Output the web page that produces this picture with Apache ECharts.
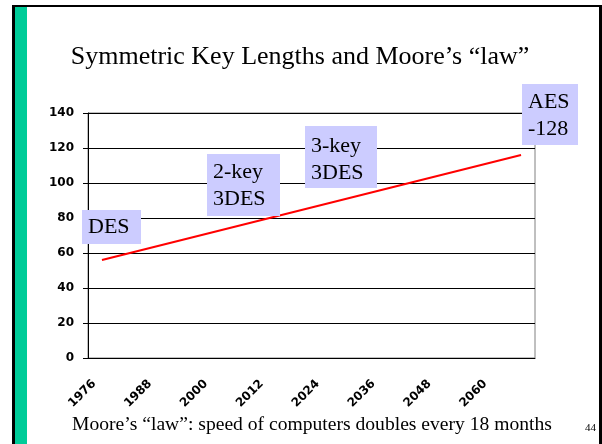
<!DOCTYPE html>
<html>
<head>
<meta charset="utf-8">
<script src="https://cdn.jsdelivr.net/npm/echarts@6/dist/echarts.min.js"></script>
<style>
  html, body { margin: 0; padding: 0; background: #fff; }
  #chart { width: 602px; height: 444px; }
</style>
</head>
<body>
<div id="chart"></div>
<script>
// years, one category per 6 years
var years = ['1976', '1982', '1988', '1994', '2000', '2006', '2012', '2018',
             '2024', '2030', '2036', '2042', '2048', '2054', '2060', '2066'];
// key length in bits (one extra bit every 18 months)
var keyBits = [56, 60, 64, 68, 72, 76, 80, 84, 88, 92, 96, 100, 104, 108, 112, 116];
var yTicks = [0, 20, 40, 60, 80, 100, 120, 140];
var titleText = 'Symmetric Key Lengths and Moore\u2019s \u201claw\u201d';
var footText = 'Moore\u2019s \u201claw\u201d: speed of computers doubles every 18 months';
var pageNo = '44';

var serif = '"Liberation Serif", "Times New Roman", serif';
var boxFill = '#ccccff';

function box(x, y, w, h, text, tx, ty) {
    return {
        type: 'group',
        z: 50,
        children: [
            { type: 'rect', z: 50, shape: { x: x, y: y, width: w, height: h }, style: { fill: boxFill } },
            { type: 'text', z: 51, x: tx, y: ty, style: {
                text: text, font: '22px ' + serif, fill: '#000',
                lineHeight: 27, textVerticalAlign: 'middle', verticalAlign: 'middle'
            } }
        ]
    };
}

var chart = echarts.init(document.getElementById('chart'));

var option = {
    backgroundColor: '#fff',
    animation: false,
    grid: {
        left: 88, right: 67, top: 113, bottom: 86,
        show: true, borderColor: '#808080', borderWidth: 1
    },
    xAxis: {
        type: 'category',
        data: years,
        boundaryGap: true,
        axisLine: { lineStyle: { color: '#000', width: 1 } },
        axisTick: { interval: 0, length: 5, lineStyle: { color: '#000' } },
        axisLabel: {
            interval: 1, rotate: 45, margin: 16, padding: [0, 11, 0, 0],
            color: '#000', fontWeight: 'bold', fontSize: 12,
            fontFamily: '"DejaVu Sans", sans-serif'
        },
        splitLine: { show: false }
    },
    yAxis: {
        type: 'value',
        min: yTicks[0],
        max: yTicks[yTicks.length - 1],
        interval: 20,
        axisLine: { show: true, lineStyle: { color: '#000', width: 1 } },
        axisTick: { show: true, length: 5, lineStyle: { color: '#000' } },
        axisLabel: {
            margin: 14, color: '#000', fontWeight: 'bold', fontSize: 12,
            fontFamily: '"DejaVu Sans", sans-serif'
        },
        splitLine: { show: true, lineStyle: { color: '#000', width: 1 } }
    },
    series: [{
        type: 'line',
        data: keyBits,
        showSymbol: false,
        symbol: 'none',
        lineStyle: { color: '#ff0000', width: 2 },
        z: 2
    }],
    graphic: [
        // slide frame
        { type: 'rect', z: 50, shape: { x: 12, y: 5, width: 590, height: 2 }, style: { fill: '#000' } },
        { type: 'rect', z: 50, shape: { x: 12, y: 5, width: 3, height: 439 }, style: { fill: '#000' } },
        { type: 'rect', z: 50, shape: { x: 15, y: 7, width: 12, height: 437 }, style: { fill: '#00cc99' } },
        { type: 'rect', z: 50, shape: { x: 599, y: 5, width: 3, height: 439 }, style: { fill: '#000' } },
        // title and footer
        { type: 'text', z: 50, x: 300, y: 57, style: {
            text: titleText, font: '26px ' + serif, fill: '#000',
            textAlign: 'center', align: 'center', textVerticalAlign: 'middle', verticalAlign: 'middle'
        } },
        { type: 'text', z: 50, x: 312, y: 425, style: {
            text: footText, font: '19.6px ' + serif, fill: '#000',
            textAlign: 'center', align: 'center', textVerticalAlign: 'middle', verticalAlign: 'middle'
        } },
        { type: 'text', z: 50, x: 585, y: 428, style: {
            text: pageNo, font: '11px ' + serif, fill: '#000',
            textVerticalAlign: 'middle', verticalAlign: 'middle'
        } },
        // key length callouts
        box(82, 210, 59, 34, 'DES', 88, 227),
        box(207, 154, 73, 62, '2-key\n3DES', 213, 186),
        box(305, 126, 72, 62, '3-key\n3DES', 311, 160),
        box(522, 84, 56, 61, 'AES\n-128', 528, 116)
    ]
};

chart.setOption(option);
</script>
</body>
</html>
